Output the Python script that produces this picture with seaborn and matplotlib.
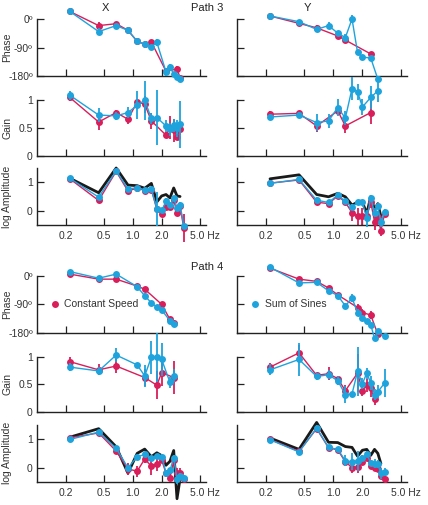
import numpy as np
import pandas as pd
import matplotlib
matplotlib.use("Agg")
import matplotlib.pyplot as plt
from matplotlib.ticker import NullLocator
from matplotlib.lines import Line2D
import seaborn as sns

# ---------------- data ----------------
# Path 3, X
p3x_phase_blue_f = [0.22, 0.44, 0.67, 0.89, 1.11, 1.33, 1.56, 1.78, 2.22, 2.44, 2.67, 2.89, 3.11]
p3x_phase_blue_v = [25, -39, -20, -35, -70, -79, -88, -73, -167, -152, -174, -184, -190]
p3x_phase_blue_e = [3, 12, 5, 5, 4, 4, 8, 12, 12, 10, 8, 8, 6]
p3x_phase_red_f = [0.22, 0.44, 0.67, 0.89, 1.11, 1.33, 1.56, 2.22, 2.89, 3.11]
p3x_phase_red_v = [25, -20, -14, -35, -70, -79, -72, -165, -158, -185]
p3x_phase_red_e = [3, 10, 4, 4, 4, 4, 6, 10, 10, 6]

p3x_gain_blue_f = [0.22, 0.44, 0.67, 0.89, 1.11, 1.33, 1.56, 1.78, 2.22, 2.44, 2.67, 2.89, 3.11]
p3x_gain_blue_v = [1.08, 0.725, 0.71, 0.77, 0.90, 0.99, 0.665, 0.68, 0.53, 0.47, 0.54, 0.49, 0.56]
p3x_gain_blue_e = [0.08, 0.12, 0.07, 0.10, 0.25, 0.35, 0.10, 0.50, 0.10, 0.12, 0.12, 0.15, 0.42]
p3x_gain_red_f = [0.22, 0.44, 0.67, 0.89, 1.11, 1.33, 1.56, 2.22, 2.44, 2.67, 2.89, 3.11]
p3x_gain_red_v = [1.04, 0.60, 0.77, 0.65, 0.96, 0.92, 0.62, 0.365, 0.50, 0.45, 0.335, 0.47]
p3x_gain_red_e = [0.07, 0.15, 0.05, 0.08, 0.05, 0.15, 0.15, 0.06, 0.2, 0.2, 0.05, 0.1]

p3x_amp_f = [0.22, 0.44, 0.67, 0.89, 1.11, 1.33, 1.56, 1.78, 2.0, 2.22, 2.44, 2.67, 2.89, 3.11, 3.4]
p3x_amp_blue_v = [1.14, 0.475, 1.40, 0.76, 0.81, 0.73, 0.76, 0.07, 0.01, 0.33, 0.20, 0.43, 0.11, 0.21, -0.52]
p3x_amp_blue_e = [0.03, 0.06, 0.05, 0.06, 0.05, 0.05, 0.05, 0.6, 0.08, 0.1, 0.1, 0.1, 0.1, 0.1, 0.1]
p3x_amp_red_v = [1.12, 0.36, 1.38, 0.69, 0.80, 0.71, 0.74, 0.05, -0.11, 0.13, 0.13, 0.38, -0.08, 0.15, -0.60]
p3x_amp_red_e = [0.03, 0.08, 0.05, 0.05, 0.05, 0.05, 0.05, 0.1, 0.1, 0.1, 0.1, 0.1, 0.1, 0.1, 0.5]
p3x_stim_f = [0.22, 0.44, 0.67, 0.89, 1.11, 1.33, 1.56, 1.78, 2.0, 2.22, 2.44, 2.67, 2.89, 3.11]
p3x_stim_v = [1.14, 0.63, 1.50, 0.90, 0.88, 0.79, 0.96, 0.31, 0.52, 0.57, 0.45, 0.80, 0.52, 0.50]

# Path 3, Y
p3y_phase_blue_f = [0.22, 0.44, 0.67, 0.89, 1.11, 1.33, 1.56, 1.78, 2.0, 2.44, 2.89]
p3y_phase_blue_v = [10.5, -7.6, -32, -20, -44, -58, 1, -105, -120, -123, -190]
p3y_phase_blue_e = [3, 4, 8, 10, 5, 10, 14, 8, 5, 8, 5]
p3y_phase_red_f = [0.22, 0.44, 0.67, 1.11, 1.33, 2.44]
p3y_phase_red_v = [10.5, -13, -27, -53, -66, -110]
p3y_phase_red_e = [3, 3, 8, 4, 5, 4]

p3y_gain_blue_f = [0.22, 0.44, 0.67, 0.89, 1.11, 1.33, 1.56, 1.78, 2.0, 2.44, 2.89]
p3y_gain_blue_v = [0.69, 0.725, 0.59, 0.62, 0.86, 0.67, 1.20, 1.14, 0.87, 1.04, 1.16]
p3y_gain_blue_e = [0.05, 0.05, 0.15, 0.12, 0.15, 0.12, 0.2, 0.15, 0.15, 0.2, 0.2]
p3y_gain_red_f = [0.22, 0.44, 0.67, 1.11, 1.33, 2.44]
p3y_gain_red_v = [0.74, 0.755, 0.53, 0.80, 0.53, 0.77]
p3y_gain_red_e = [0.05, 0.05, 0.1, 0.05, 0.12, 0.2]

p3y_amp_f = [0.22, 0.44, 0.67, 0.89, 1.11, 1.33, 1.56, 1.78, 2.0, 2.22, 2.44, 2.67, 2.89, 3.11, 3.4]
p3y_amp_blue_v = [0.96, 1.10, 0.37, 0.29, 0.55, 0.33, 0.13, 0.29, 0.29, -0.26, 0.46, -0.07, 0.16, -0.41, -0.05]
p3y_amp_blue_e = [0.03, 0.03, 0.1, 0.1, 0.05, 0.08, 0.1, 0.08, 0.08, 0.3, 0.1, 0.15, 0.1, 0.15, 0.1]
p3y_amp_red_v = [0.97, 1.08, 0.30, 0.25, 0.52, 0.30, -0.07, -0.19, -0.20, -0.20, 0.30, -0.38, -0.23, -0.70, -0.10]
p3y_amp_red_e = [0.03, 0.03, 0.1, 0.1, 0.05, 0.08, 0.3, 0.3, 0.3, 0.2, 0.2, 0.3, 0.2, 0.2, 0.1]
p3y_stim_f = [0.22, 0.44, 0.67, 0.89, 1.11, 1.33, 1.56, 1.78, 2.0, 2.22, 2.44, 2.67, 2.89, 3.11]
p3y_stim_v = [1.12, 1.26, 0.57, 0.49, 0.61, 0.49, 0.20, 0.30, 0.30, -0.10, 0.50, 0.05, 0.25, -0.20]

# Path 4, X
p4x_phase_blue_f = [0.22, 0.44, 0.67, 1.11, 1.33, 1.56, 1.78, 2.0, 2.44, 2.67]
p4x_phase_blue_v = [14, -7, 6, -34, -63, -85, -99, -108, -142, -152]
p4x_phase_blue_e = [3, 3, 4, 6, 8, 6, 8, 6, 5, 6]
p4x_phase_red_f = [0.22, 0.44, 0.67, 1.11, 1.33, 2.0, 2.44, 2.67]
p4x_phase_red_v = [6, -10, -10, -32, -42, -90, -138, -148]
p4x_phase_red_e = [3, 3, 4, 5, 8, 8, 5, 5]

p4x_gain_blue_f = [0.22, 0.44, 0.67, 1.11, 1.33, 1.56, 1.78, 2.0, 2.44, 2.67]
p4x_gain_blue_v = [0.81, 0.74, 1.03, 0.85, 0.65, 0.99, 0.99, 0.95, 0.53, 0.65]
p4x_gain_blue_e = [0.08, 0.08, 0.12, 0.03, 0.2, 0.3, 0.45, 0.3, 0.1, 0.12]
p4x_gain_red_f = [0.22, 0.44, 0.67, 1.33, 1.78, 2.0, 2.67]
p4x_gain_red_v = [0.91, 0.76, 0.83, 0.62, 0.48, 0.71, 0.62]
p4x_gain_red_e = [0.08, 0.1, 0.12, 0.15, 0.25, 0.25, 0.3]

p4x_amp_f = [0.22, 0.44, 0.67, 0.89, 1.11, 1.33, 1.56, 1.78, 2.0, 2.22, 2.44, 2.67, 2.89, 3.11, 3.4]
p4x_amp_blue_v = [0.99, 1.25, 0.68, -0.01, 0.38, 0.46, 0.34, 0.40, 0.38, -0.18, -0.10, 0.34, -0.42, -0.30, -0.37]
p4x_amp_blue_e = [0.03, 0.03, 0.05, 0.1, 0.05, 0.05, 0.08, 0.08, 0.08, 0.1, 0.1, 0.1, 0.15, 0.1, 0.1]
p4x_amp_red_v = [1.05, 1.22, 0.58, -0.05, -0.13, 0.30, 0.05, 0.11, 0.26, -0.20, -0.37, 0.25, -0.20, -0.20, -0.40]
p4x_amp_red_e = [0.03, 0.03, 0.05, 0.2, 0.2, 0.15, 0.3, 0.25, 0.1, 0.1, 0.1, 0.2, 0.2, 0.2, 0.1]
p4x_stim_f = [0.22, 0.44, 0.67, 0.89, 1.11, 1.33, 1.56, 1.78, 2.0, 2.22, 2.44, 2.67, 2.89, 3.11]
p4x_stim_v = [1.07, 1.37, 0.73, -0.20, 0.50, 0.65, 0.38, 0.52, 0.42, 0.08, 0.22, 0.60, -1.10, -0.40]

# Path 4, Y
p4y_phase_blue_f = [0.22, 0.44, 0.67, 0.89, 1.11, 1.33, 1.56, 1.78, 2.0, 2.22, 2.44, 2.67, 2.89, 3.4]
p4y_phase_blue_v = [28, -22, -20, -47, -62, -95, -70, -116, -132, -144, -155, -198, -175, -192]
p4y_phase_blue_e = [3, 5, 4, 4, 5, 8, 12, 10, 8, 6, 6, 5, 8, 6]
p4y_phase_red_f = [0.22, 0.44, 0.67, 0.89, 1.11, 1.78, 2.0, 2.44, 2.89]
p4y_phase_red_v = [25, -10, -17, -38, -60, -100, -116, -124, -185]
p4y_phase_red_e = [3, 4, 4, 4, 4, 10, 12, 12, 8]

p4y_gain_blue_f = [0.22, 0.44, 0.67, 0.89, 1.11, 1.33, 1.56, 1.78, 2.0, 2.22, 2.44, 2.67, 2.89, 3.4]
p4y_gain_blue_v = [0.76, 0.95, 0.64, 0.67, 0.56, 0.31, 0.32, 0.73, 0.51, 0.70, 0.52, 0.31, 0.36, 0.52]
p4y_gain_blue_e = [0.1, 0.3, 0.06, 0.08, 0.08, 0.15, 0.03, 0.45, 0.1, 0.1, 0.12, 0.1, 0.12, 0.25]
p4y_gain_red_f = [0.22, 0.44, 0.67, 0.89, 1.11, 1.33, 1.78, 2.0, 2.22, 2.44, 2.67]
p4y_gain_red_v = [0.81, 1.07, 0.66, 0.69, 0.60, 0.38, 0.70, 0.38, 0.48, 0.42, 0.22]
p4y_gain_red_e = [0.08, 0.15, 0.05, 0.12, 0.05, 0.1, 0.35, 0.1, 0.12, 0.15, 0.1]

p4y_amp_f = [0.22, 0.44, 0.67, 0.89, 1.11, 1.33, 1.56, 1.78, 2.0, 2.22, 2.44, 2.67, 2.89, 3.11, 3.4]
p4y_amp_blue_v = [0.98, 0.55, 1.39, 0.71, 0.64, 0.24, 0.20, 0.24, 0.34, 0.48, 0.16, 0.14, 0.12, -0.21, -0.16]
p4y_amp_blue_e = [0.03, 0.08, 0.05, 0.05, 0.05, 0.2, 0.3, 0.35, 0.1, 0.1, 0.1, 0.15, 0.15, 0.2, 0.15]
p4y_amp_red_v = [0.99, 0.57, 1.37, 0.70, 0.62, 0.20, 0.00, 0.02, 0.20, 0.33, 0.05, 0.00, -0.04, -0.30, -0.39]
p4y_amp_red_e = [0.03, 0.05, 0.05, 0.05, 0.05, 0.15, 0.2, 0.2, 0.1, 0.1, 0.1, 0.1, 0.1, 0.1, 0.1]
p4y_stim_f = [0.22, 0.44, 0.67, 0.89, 1.11, 1.33, 1.56, 1.78, 2.0, 2.22, 2.44, 2.67, 2.89, 3.11]
p4y_stim_v = [1.04, 0.64, 1.59, 0.89, 0.88, 0.74, 0.71, 0.40, 0.61, 0.64, 0.43, 0.64, 0.50, 0.14]

x_ticks = [0.2, 0.5, 1.0, 2.0, 5.0]
x_ticklabels = ["0.2", "0.5", "1.0", "2.0", ""]
x_last_label = "5.0 Hz"
phase_ticks = [0, -90, -180]
phase_ticklabels = ["0º", "-90º", "-180º"]
gain_ticks = [0, 0.5, 1]
gain_ticklabels = ["0", "0.5", "1"]
amp_ticks = [0, 1]
amp_ticklabels = ["0", "1"]

# ---------------- style ----------------
sns.set_style("ticks")
plt.rcParams["font.family"] = ["Liberation Sans", "DejaVu Sans"]
RED = "#d81e5b"
BLUE = "#1ea3dc"
FS = 7.5

W, H = 428, 505
fig = plt.figure(figsize=(W / 100, H / 100), dpi=100)


def make_ax(x0, x1, ytop, ybot):
    return fig.add_axes([x0 / W, 1 - ybot / H, (x1 - x0) / W, (ybot - ytop) / H])


def series(ax, f, v, e, color, z):
    df = pd.DataFrame({"f": f, "v": v})
    eb = ax.errorbar(f, v, yerr=e, fmt="none", ecolor=color, elinewidth=1.3,
                     capsize=0, zorder=z - 0.5)
    for c in eb.lines[2]:
        c.set_clip_on(False)
    sns.lineplot(data=df, x="f", y="v", ax=ax, color=color, lw=1.0, marker="o",
                 markersize=5, markeredgewidth=0, sort=False, zorder=z,
                 clip_on=False, legend=False)


def stim(ax, f, v):
    df = pd.DataFrame({"f": f, "v": v})
    sns.lineplot(data=df, x="f", y="v", ax=ax, color="#1a1a1a", lw=2.0,
                 sort=False, zorder=1, clip_on=False, legend=False)


def style(ax, kind, left, xlabels):
    ax.set_xscale("log")
    ax.set_xlim(0.1, 5.8)
    ax.set_xticks(x_ticks)
    ax.xaxis.set_minor_locator(NullLocator())
    if kind == "phase":
        ax.set_ylim(-180, 0)
        ax.set_yticks(phase_ticks)
        ax.set_yticklabels(phase_ticklabels if left else [])
        ax.set_ylabel("Phase" if left else "")
    elif kind == "gain":
        ax.set_ylim(0, 1)
        ax.set_yticks(gain_ticks)
        ax.set_yticklabels(gain_ticklabels if left else [])
        ax.set_ylabel("Gain" if left else "")
    else:
        ax.set_ylim(-0.5, 1.5)
        ax.set_yticks(amp_ticks)
        ax.set_yticklabels(amp_ticklabels if left else [])
        ax.set_ylabel("log Amplitude" if left else "")
    if xlabels:
        ax.set_xticklabels(x_ticklabels)
        ax.annotate(x_last_label, xy=(x_ticks[-1], 0), xycoords=("data", "axes fraction"),
                    xytext=(-9.5, -6.3), textcoords="offset pixels",
                    ha="left", va="top", fontsize=FS, color="#333333",
                    annotation_clip=False)
    else:
        ax.set_xticklabels([])
    ax.set_xlabel("")
    ax.tick_params(direction="in", length=5, width=0.9, labelsize=FS, pad=3,
                   colors="#222222")
    ax.tick_params(axis="x", pad=4.5)
    ax.tick_params(axis="both", labelcolor="#333333")
    for s in ["top", "right"]:
        ax.spines[s].set_visible(False)
    for s in ["left", "bottom"]:
        ax.spines[s].set_linewidth(1.0)
        ax.spines[s].set_color("#222222")
    ax.yaxis.label.set_size(FS)
    ax.yaxis.label.set_color("#333333")
    ax.yaxis.set_label_coords(-0.145, 0.5)
    ax.patch.set_visible(False)


LX = (37, 206)
RX = (237, 407)
rows = [(19.3, 76), (99.7, 155.5), (168, 225), (276, 332.7), (356.7, 411.5), (425, 481.7)]

panels = [
    # (col, row, kind, blue, red, stim)
    (LX, 0, "phase", (p3x_phase_blue_f, p3x_phase_blue_v, p3x_phase_blue_e),
     (p3x_phase_red_f, p3x_phase_red_v, p3x_phase_red_e), None),
    (LX, 1, "gain", (p3x_gain_blue_f, p3x_gain_blue_v, p3x_gain_blue_e),
     (p3x_gain_red_f, p3x_gain_red_v, p3x_gain_red_e), None),
    (LX, 2, "amp", (p3x_amp_f, p3x_amp_blue_v, p3x_amp_blue_e),
     (p3x_amp_f, p3x_amp_red_v, p3x_amp_red_e), (p3x_stim_f, p3x_stim_v)),
    (RX, 0, "phase", (p3y_phase_blue_f, p3y_phase_blue_v, p3y_phase_blue_e),
     (p3y_phase_red_f, p3y_phase_red_v, p3y_phase_red_e), None),
    (RX, 1, "gain", (p3y_gain_blue_f, p3y_gain_blue_v, p3y_gain_blue_e),
     (p3y_gain_red_f, p3y_gain_red_v, p3y_gain_red_e), None),
    (RX, 2, "amp", (p3y_amp_f, p3y_amp_blue_v, p3y_amp_blue_e),
     (p3y_amp_f, p3y_amp_red_v, p3y_amp_red_e), (p3y_stim_f, p3y_stim_v)),
    (LX, 3, "phase", (p4x_phase_blue_f, p4x_phase_blue_v, p4x_phase_blue_e),
     (p4x_phase_red_f, p4x_phase_red_v, p4x_phase_red_e), None),
    (LX, 4, "gain", (p4x_gain_blue_f, p4x_gain_blue_v, p4x_gain_blue_e),
     (p4x_gain_red_f, p4x_gain_red_v, p4x_gain_red_e), None),
    (LX, 5, "amp", (p4x_amp_f, p4x_amp_blue_v, p4x_amp_blue_e),
     (p4x_amp_f, p4x_amp_red_v, p4x_amp_red_e), (p4x_stim_f, p4x_stim_v)),
    (RX, 3, "phase", (p4y_phase_blue_f, p4y_phase_blue_v, p4y_phase_blue_e),
     (p4y_phase_red_f, p4y_phase_red_v, p4y_phase_red_e), None),
    (RX, 4, "gain", (p4y_gain_blue_f, p4y_gain_blue_v, p4y_gain_blue_e),
     (p4y_gain_red_f, p4y_gain_red_v, p4y_gain_red_e), None),
    (RX, 5, "amp", (p4y_amp_f, p4y_amp_blue_v, p4y_amp_blue_e),
     (p4y_amp_f, p4y_amp_red_v, p4y_amp_red_e), (p4y_stim_f, p4y_stim_v)),
]

axes = {}
for col, row, kind, blue, red, st in panels:
    ytop, ybot = rows[row]
    ax = make_ax(col[0], col[1], ytop, ybot)
    if st is not None:
        stim(ax, *st)
    series(ax, *red, RED, 3)
    series(ax, *blue, BLUE, 5)
    style(ax, kind, col is LX, kind == "amp")
    axes[(col is LX, row)] = ax

# legends
h_red = Line2D([], [], color=RED, marker="o", ls="none", markersize=5, markeredgewidth=0)
h_blue = Line2D([], [], color=BLUE, marker="o", ls="none", markersize=5, markeredgewidth=0)
for key, h, lab, bx in [((True, 3), h_red, "Constant Speed", 0.075),
                        ((False, 3), h_blue, "Sum of Sines", 0.078)]:
    leg = axes[key].legend([h], [lab], loc="center left", bbox_to_anchor=(bx, 0.5),
                           frameon=False, fontsize=FS, handlelength=1.0,
                           handletextpad=0.4, borderaxespad=0, borderpad=0)
    for t in leg.get_texts():
        t.set_color("#333333")

# titles
tkw = dict(fontsize=8, color="#222222", ha="center", va="center")
fig.text(105.7 / W, 1 - 8 / H, "X", **tkw)
fig.text(307 / W, 1 - 8 / H, "Y", **tkw)
fig.text(207 / W, 1 - 8 / H, "Path 3", **tkw)
fig.text(207 / W, 1 - 266.5 / H, "Path 4", **tkw)

fig.savefig("out.png", dpi=100)
